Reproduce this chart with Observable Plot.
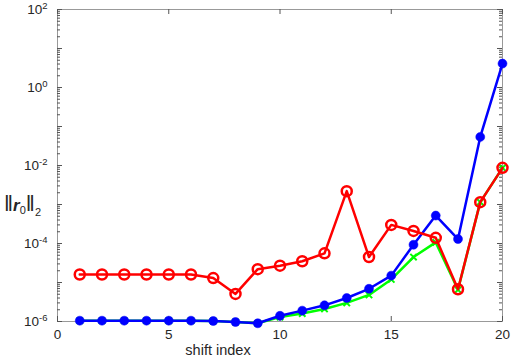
<!DOCTYPE html>
<html><head><meta charset="utf-8">
<script src="https://cdn.jsdelivr.net/npm/d3@7"></script>
<script src="https://cdn.jsdelivr.net/npm/@observablehq/plot@0.6"></script>
<style>body{margin:0;background:#fff} svg{display:block}</style>
</head><body><div id="chart"></div>
<script>
const shift = [1,2,3,4,5,6,7,8,9,10,11,12,13,14,15,16,17,18,19,20];
const blue  = [1.05e-6,1.05e-6,1.05e-6,1.05e-6,1.05e-6,1.05e-6,1.03e-6,0.97e-6,0.9e-6,1.4e-6,1.9e-6,2.6e-6,4.0e-6,6.9e-6,1.5e-5,9.3e-5,5.2e-4,1.3e-4,0.054,4.1];
const green = [1.05e-6,1.05e-6,1.05e-6,1.05e-6,1.05e-6,1.05e-6,1.03e-6,0.97e-6,0.9e-6,1.3e-6,1.6e-6,2.1e-6,3.0e-6,4.8e-6,1.2e-5,4.5e-5,1.07e-4,6.5e-6,1.15e-3,8.7e-3];
const red   = [1.6e-5,1.6e-5,1.6e-5,1.6e-5,1.6e-5,1.6e-5,1.3e-5,5.1e-6,2.2e-5,2.7e-5,3.5e-5,5.6e-5,2.2e-3,4.5e-5,3.0e-4,2.1e-4,1.4e-4,6.7e-6,1.15e-3,8.7e-3];
const xTicks = [0,5,10,15,20];
const yTicks = [1e-6,1e-4,1e-2,1,1e2];
const xLabel = "shift index";

const W = 511, H = 362;
const mL = 57, mR = 9, mT = 9, mB = 41;
const plotW = W - mL - mR, plotH = H - mT - mB;
const majors = d3.range(-6, 3).map(e => 10 ** e);
const minors = d3.range(-6, 2).flatMap(e => d3.range(2, 10).map(k => k * 10 ** e));
const idx = d3.range(shift.length);
const tickCol = "#555";

const chart = Plot.plot({
  width: W, height: H,
  marginLeft: mL, marginRight: mR, marginTop: mT, marginBottom: mB,
  style: {fontFamily: "'Liberation Sans', Arial, sans-serif", fontSize: "13.5px", color: "#262626", background: "#fff"},
  x: {domain: [0, 20]},
  y: {type: "log", domain: [1e-6, 1e2]},
  marks: [
    Plot.frame({stroke: "#999"}),
    Plot.tickY(majors, {y: d => d, insetRight: plotW - 5, stroke: tickCol}),
    Plot.tickY(majors, {y: d => d, insetLeft: plotW - 5, stroke: tickCol}),
    Plot.tickY(minors, {y: d => d, insetRight: plotW - 3, stroke: tickCol}),
    Plot.tickY(minors, {y: d => d, insetLeft: plotW - 3, stroke: tickCol}),
    Plot.tickX(xTicks, {x: d => d, insetTop: plotH - 5, stroke: tickCol}),
    Plot.tickX(xTicks, {x: d => d, insetBottom: plotH - 5, stroke: tickCol}),
    Plot.axisX({ticks: xTicks, tickSize: 0, tickPadding: 8, label: null}),
    Plot.axisY({ticks: yTicks, tickSize: 0, tickPadding: 10, label: null,
      tickFormat: d => "10|" + Math.round(Math.log10(d))}),
    Plot.line(idx, {x: i => shift[i], y: i => green[i], stroke: "#00ff00", strokeWidth: 2.5}),
    Plot.dot(idx, {x: i => shift[i], y: i => green[i], symbol: "times", r: 3, stroke: "#00ff00", strokeWidth: 2}),
    Plot.line(idx, {x: i => shift[i], y: i => blue[i], stroke: "#0000ff", strokeWidth: 2.5}),
    Plot.dot(idx, {x: i => shift[i], y: i => blue[i], r: 4.5, fill: "#0000ff", stroke: "#0000ff", strokeWidth: 0.5}),
    Plot.line(idx, {x: i => shift[i], y: i => red[i], stroke: "#ff0000", strokeWidth: 2.5}),
    Plot.dot(idx, {x: i => shift[i], y: i => red[i], r: 5, fill: "none", stroke: "#ff0000", strokeWidth: 2.5})
  ]
});

const svg = d3.select(chart);
svg.selectAll('g[aria-label="y-axis tick label"] text').each(function() {
  const t = d3.select(this);
  const [base, exp] = t.text().split("|");
  t.text(base);
  t.append("tspan").attr("dy", "-0.55em").attr("font-size", "9.5px").text(exp);
});

// x-axis label
svg.append("text")
  .attr("x", 218).attr("y", 355)
  .attr("text-anchor", "middle")
  .attr("font-family", "'Liberation Sans', Arial, sans-serif")
  .attr("font-size", "14.5px").attr("fill", "#262626")
  .text(xLabel);

// y-axis label ||r_0||_2
const yl = svg.append("text")
  .attr("x", 4).attr("y", 211)
  .attr("text-anchor", "start")
  .attr("font-family", "'Liberation Sans', Arial, sans-serif")
  .attr("font-size", "17px").attr("fill", "#262626");
yl.append("tspan").attr("font-size", "22px").attr("font-weight", "200").text("\u2016");
yl.append("tspan").attr("font-weight", "bold").attr("font-style", "italic").text("r");
yl.append("tspan").attr("font-size", "11px").attr("dy", "3").text("0");
yl.append("tspan").attr("font-size", "22px").attr("font-weight", "200").attr("dy", "-3").text("\u2016");
yl.append("tspan").attr("font-size", "11px").attr("dy", "5").text("2");

document.getElementById("chart").append(chart);
</script>
</body></html>
